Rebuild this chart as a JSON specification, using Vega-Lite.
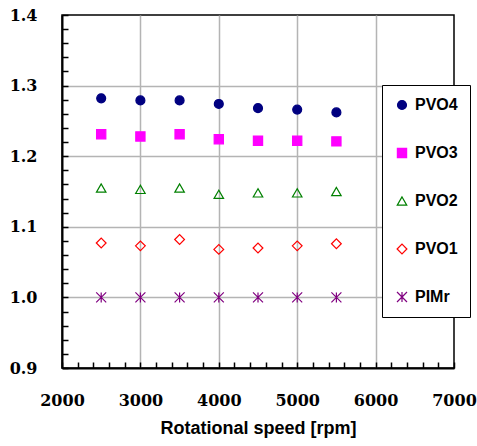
{
  "$schema": "https://vega.github.io/schema/vega-lite/v6.json",
  "autosize": "none",
  "width": 392,
  "height": 353,
  "padding": {"left": 62, "top": 15, "right": 23, "bottom": 78},
  "background": "white",
  "config": {
    "view": {"stroke": "black", "strokeWidth": 1.5},
    "axis": {
      "domainColor": "black",
      "domainWidth": 2,
      "labelColor": "black",
      "titleColor": "black"
    }
  },
  "data": {
    "values": [
      {"series": "PVO4", "rpm": 2500, "ratio": 1.282},
      {"series": "PVO4", "rpm": 3000, "ratio": 1.279},
      {"series": "PVO4", "rpm": 3500, "ratio": 1.279},
      {"series": "PVO4", "rpm": 4000, "ratio": 1.274},
      {"series": "PVO4", "rpm": 4500, "ratio": 1.268},
      {"series": "PVO4", "rpm": 5000, "ratio": 1.266},
      {"series": "PVO4", "rpm": 5500, "ratio": 1.262},
      {"series": "PVO3", "rpm": 2500, "ratio": 1.231},
      {"series": "PVO3", "rpm": 3000, "ratio": 1.228},
      {"series": "PVO3", "rpm": 3500, "ratio": 1.231},
      {"series": "PVO3", "rpm": 4000, "ratio": 1.224},
      {"series": "PVO3", "rpm": 4500, "ratio": 1.222},
      {"series": "PVO3", "rpm": 5000, "ratio": 1.222},
      {"series": "PVO3", "rpm": 5500, "ratio": 1.221},
      {"series": "PVO2", "rpm": 2500, "ratio": 1.155},
      {"series": "PVO2", "rpm": 3000, "ratio": 1.153},
      {"series": "PVO2", "rpm": 3500, "ratio": 1.155},
      {"series": "PVO2", "rpm": 4000, "ratio": 1.146},
      {"series": "PVO2", "rpm": 4500, "ratio": 1.148},
      {"series": "PVO2", "rpm": 5000, "ratio": 1.148},
      {"series": "PVO2", "rpm": 5500, "ratio": 1.150},
      {"series": "PVO1", "rpm": 2500, "ratio": 1.077},
      {"series": "PVO1", "rpm": 3000, "ratio": 1.073},
      {"series": "PVO1", "rpm": 3500, "ratio": 1.082},
      {"series": "PVO1", "rpm": 4000, "ratio": 1.068},
      {"series": "PVO1", "rpm": 4500, "ratio": 1.070},
      {"series": "PVO1", "rpm": 5000, "ratio": 1.073},
      {"series": "PVO1", "rpm": 5500, "ratio": 1.076},
      {"series": "PIMr", "rpm": 2500, "ratio": 1.0},
      {"series": "PIMr", "rpm": 3000, "ratio": 1.0},
      {"series": "PIMr", "rpm": 3500, "ratio": 1.0},
      {"series": "PIMr", "rpm": 4000, "ratio": 1.0},
      {"series": "PIMr", "rpm": 4500, "ratio": 1.0},
      {"series": "PIMr", "rpm": 5000, "ratio": 1.0},
      {"series": "PIMr", "rpm": 5500, "ratio": 1.0}
    ]
  },
  "mark": {"type": "point", "strokeWidth": 1.2, "opacity": 1},
  "encoding": {
    "x": {
      "field": "rpm",
      "type": "quantitative",
      "scale": {"domain": [2000, 7000], "nice": false},
      "axis": {
        "title": "Rotational speed [rpm]",
        "titleFont": "Liberation Sans",
        "titleFontWeight": "bold",
        "titleFontSize": 18,
        "titlePadding": 11,
        "labelFont": "DejaVu Serif",
        "labelFontWeight": "bold",
        "labelFontSize": 16,
        "values": [2000,2200,2400,2600,2800,3000,3200,3400,3600,3800,4000,4200,4400,4600,4800,5000,5200,5400,5600,5800,6000,6200,6400,6600,6800,7000],
        "labelExpr": "datum.value % 1000 == 0 ? format(datum.value, 'd') : ''",
        "ticks": true,
        "tickColor": "black",
        "tickWidth": 1.5,
        "tickSize": -6,
        "labelPadding": 30,
        "labelFlush": false,
        "grid": true,
        "gridWidth": 1.5,
        "gridColor": {"condition": {"test": "datum.value % 1000 == 0 && datum.value > 2000 && datum.value < 7000", "value": "#b4b4b4"}, "value": "transparent"}
      }
    },
    "y": {
      "field": "ratio",
      "type": "quantitative",
      "scale": {"domain": [0.9, 1.4], "nice": false, "zero": false},
      "axis": {
        "title": null,
        "labelFont": "DejaVu Serif",
        "labelFontWeight": "bold",
        "labelFontSize": 16,
        "values": [0.9,0.92,0.94,0.96,0.98,1.0,1.02,1.04,1.06,1.08,1.1,1.12,1.14,1.16,1.18,1.2,1.22,1.24,1.26,1.28,1.3,1.32,1.34,1.36,1.38,1.4],
        "labelExpr": "round(datum.value * 100) % 10 == 0 ? format(datum.value, '.1f') : ''",
        "ticks": true,
        "tickColor": "black",
        "tickWidth": 1.5,
        "tickSize": -6,
        "labelPadding": 31,
        "labelFlush": false,
        "grid": true,
        "gridWidth": 1.5,
        "gridColor": {"condition": {"test": "round(datum.value * 100) % 10 == 0 && round(datum.value*100) > 90 && round(datum.value*100) < 140", "value": "#b4b4b4"}, "value": "transparent"}
      }
    },
    "shape": {
      "field": "series",
      "type": "nominal",
      "scale": {
        "domain": ["PVO4", "PVO3", "PVO2", "PVO1", "PIMr"],
        "range": ["circle", "square", "triangle-up", "diamond", "M-1,-1L1,1M-1,1L1,-1M0,-1L0,1"]
      },
      "legend": {
        "title": null,
        "orient": "none",
        "legendX": 320,
        "legendY": 70,
        "fillColor": "white",
        "strokeColor": "black",
        "padding": 12,
        "rowPadding": 32,
        "labelFont": "Liberation Sans",
        "labelFontWeight": "bold",
        "labelFontSize": 16,
        "labelColor": "black",
        "labelOffset": 5,
        "symbolStrokeWidth": 1.2,
        "symbolOpacity": 1
      }
    },
    "fill": {
      "field": "series",
      "type": "nominal",
      "scale": {
        "domain": ["PVO4", "PVO3", "PVO2", "PVO1", "PIMr"],
        "range": ["#000080", "#ff00ff", "transparent", "transparent", "transparent"]
      }
    },
    "stroke": {
      "field": "series",
      "type": "nominal",
      "scale": {
        "domain": ["PVO4", "PVO3", "PVO2", "PVO1", "PIMr"],
        "range": ["#000080", "#ff00ff", "#008000", "#ff0000", "#800080"]
      }
    },
    "size": {
      "field": "series",
      "type": "nominal",
      "scale": {
        "domain": ["PVO4", "PVO3", "PVO2", "PVO1", "PIMr"],
        "range": [80, 100, 90, 70, 81]
      }
    }
  }
}
